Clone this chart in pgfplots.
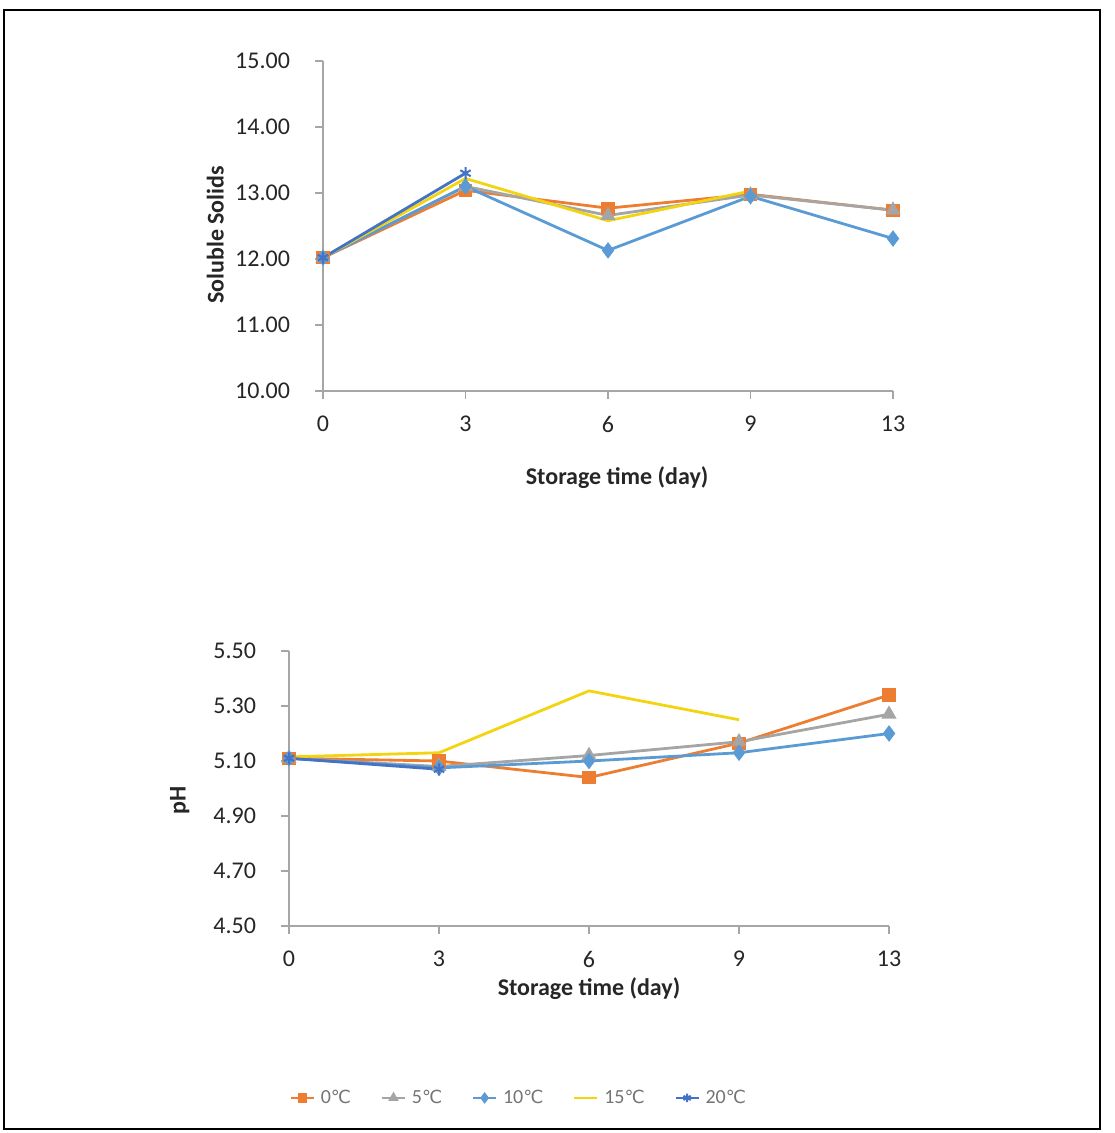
\documentclass[border=0pt]{standalone}
\usepackage{pgfplots}
\pgfplotsset{compat=1.18}
\usepackage{fontspec}
\setmainfont{Carlito}
\newfontfamily\dejavu{DejaVu Sans}
\newcommand\degC{{\dejavu\fontsize{9}{11}\selectfont ℃}}
\definecolor{cOr}{HTML}{ED7D31}
\definecolor{cGr}{HTML}{A5A5A5}
\definecolor{cBl}{HTML}{5B9BD5}
\definecolor{cYe}{HTML}{F2D411}
\definecolor{cDb}{HTML}{4472C4}
\definecolor{axgray}{HTML}{A6A6A6}
\definecolor{txt}{HTML}{262626}
\pgfplotsset{
  exc/.style={
    scale only axis,
    axis lines=left,
    axis line style={-, axgray, line width=0.8pt},
    tick style={axgray, line width=0.8pt},
    tick align=outside,
    major tick length=4pt,
    xmin=0, xmax=4,
    xtick={0,1,2,3,4},
    xticklabels={0,3,6,9,13},
    clip=false,
    font=\fontsize{12}{14}\selectfont\color{txt},
    /pgf/number format/assume math mode=true,
    yticklabel style={/pgf/number format/.cd, fixed, fixed zerofill, precision=2, /tikz/.cd, anchor=east, xshift=-9pt},
    xticklabel style={anchor=north, yshift=-5pt},
    label style={font=\fontsize{12}{14}\selectfont\bfseries\color{txt}},
    every axis plot/.append style={line width=1.4pt},
  },
  s0/.style={color=cOr, mark=square*, mark size=2.6pt},
  s5/.style={color=cGr, mark=triangle*, mark size=3pt},
  s10/.style={color=cBl, mark=diamond*, mark size=3pt},
  s15/.style={color=cYe, mark=none},
  s20/.style={color=cDb, mark=asterisk, mark size=3pt, mark options={line width=1pt}},
}
\begin{document}
\begin{tikzpicture}
\path[use as bounding box] (0,0) rectangle (557pt,-566.5pt);
\draw[black, line width=0.6pt] (2pt,-5pt) rectangle (550pt,-564.5pt);

\begin{axis}[exc,
  at={(161.5pt,-195.5pt)}, anchor=south west,
  width=285pt, height=165pt,
  ymin=10, ymax=15, ytick={10,11,12,13,14,15},
  xlabel={Storage time (day)},
  ylabel={Soluble Solids},
  xlabel style={at={(axis description cs:0.516,-0.264)}, anchor=center},
  ylabel style={at={(axis description cs:-0.189,0.473)}, anchor=center},
]
\addplot[s0] coordinates {(0,12.02) (1,13.04) (2,12.77) (3,12.98) (4,12.74)};
\addplot[s5] coordinates {(0,12.02) (1,13.10) (2,12.66) (3,12.97) (4,12.74)};
\addplot[s10] coordinates {(0,12.02) (1,13.10) (2,12.13) (3,12.95) (4,12.31)};
\addplot[s15] coordinates {(0,12.02) (1,13.22) (2,12.58) (3,13.03)};
\addplot[s20] coordinates {(0,12.02) (1,13.30)};
\end{axis}

\begin{axis}[exc,
  at={(144.5pt,-463pt)}, anchor=south west,
  width=300pt, height=137.5pt,
  ymin=4.5, ymax=5.5, ytick={4.5,4.7,4.9,5.1,5.3,5.5},
  xlabel={Storage time (day)},
  ylabel={pH},
  xlabel style={at={(axis description cs:0.5,-0.229)}, anchor=center},
  ylabel style={at={(axis description cs:-0.182,0.458)}, anchor=center},
  legend style={at={(axis description cs:0.385,-0.625)}, anchor=center,
    draw=none, fill=none, legend columns=5,
    font=\fontsize{10}{12}\selectfont\color{axgray!70!black},
    /tikz/every even column/.append style={column sep=13pt},
    /tikz/every odd column/.append style={column sep=1pt}},
  legend image post style={line width=1pt, mark options={scale=0.7}},
  legend image code/.code={\draw[mark repeat=2, mark phase=2] plot coordinates {(0cm,0cm) (0.2cm,0cm) (0.4cm,0cm)};},
]
\addplot[s0] coordinates {(0,5.11) (1,5.10) (2,5.04) (3,5.165) (4,5.34)};
\addlegendentry{0\degC}
\addplot[s5] coordinates {(0,5.11) (1,5.08) (2,5.12) (3,5.17) (4,5.27)};
\addlegendentry{5\degC}
\addplot[s10] coordinates {(0,5.11) (1,5.075) (2,5.10) (3,5.13) (4,5.20)};
\addlegendentry{10\degC}
\addplot[s15] coordinates {(0,5.115) (1,5.13) (2,5.355) (3,5.25)};
\addlegendentry{15\degC}
\addplot[s20] coordinates {(0,5.11) (1,5.07)};
\addlegendentry{20\degC}
\end{axis}
\end{tikzpicture}
\end{document}
